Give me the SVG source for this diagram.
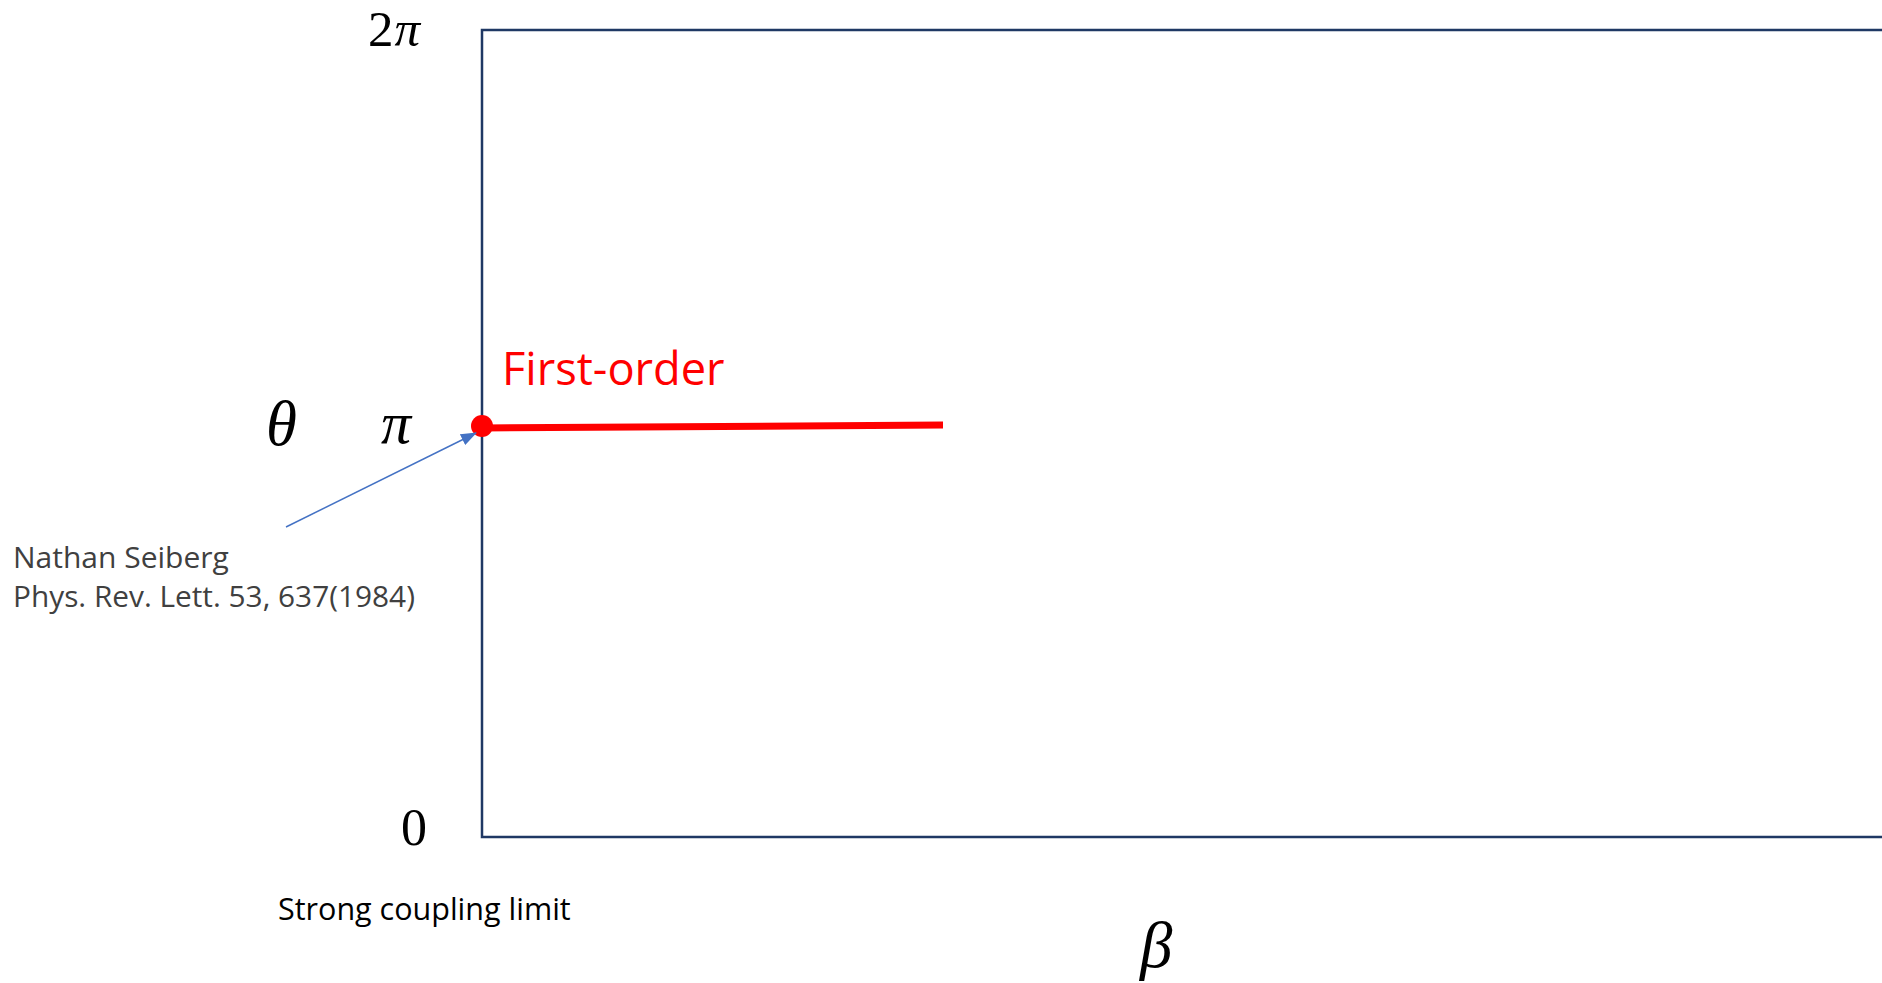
<svg xmlns="http://www.w3.org/2000/svg" width="1882" height="983" viewBox="0 0 1882 983">
<style>
.math{font-family:"Liberation Serif","DejaVu Serif",serif;fill:#000}
.it{font-style:italic}
.sans{font-family:"Open Sans","Noto Sans","Liberation Sans",sans-serif}
</style>
<defs>
<marker id="ah" markerWidth="16" markerHeight="12" refX="15" refY="6" orient="auto" markerUnits="userSpaceOnUse" viewBox="0 0 16 12">
<path d="M0,0 L16,6 L0,12 Z" fill="#4472C4"/>
</marker>
</defs>
<rect width="1882" height="983" fill="#fff"/>
<g id="frame">
<path d="M1884,30 H482 V837 H1884" fill="none" stroke="#1F3864" stroke-width="2.5"/>
</g>
<g id="axis-labels">
<text class="math" x="368" y="46" font-size="51" letter-spacing="1">2<tspan class="it">π</tspan></text>
<text class="math it" x="381" y="443" font-size="60">π</text>
<text class="math it" x="266" y="445" font-size="63">θ</text>
<text class="math" x="401" y="845" font-size="52">0</text>
<text class="math it" x="1140" y="967" font-size="65">β</text>
<text class="sans" x="278" y="920" font-size="30.5" fill="#000">Strong coupling limit</text>
</g>
<g id="first-order">
<line x1="482" y1="428" x2="943" y2="425" stroke="#FF0000" stroke-width="7"/>
<circle cx="482" cy="426" r="11" fill="#FF0000"/>
<text class="sans" x="502" y="385" font-size="45.2" fill="#FF0000">First-order</text>
</g>
<g id="seiberg">
<text class="sans" x="13" y="568" font-size="30" fill="#404040">Nathan Seiberg</text>
<text class="sans" x="13" y="607" font-size="29.8" fill="#404040">Phys. Rev. Lett. 53, 637(1984)</text>
</g>
<g id="connectors">
<line x1="286" y1="527" x2="476" y2="433" stroke="#4472C4" stroke-width="1.5" marker-end="url(#ah)"/>
</g>
</svg>
